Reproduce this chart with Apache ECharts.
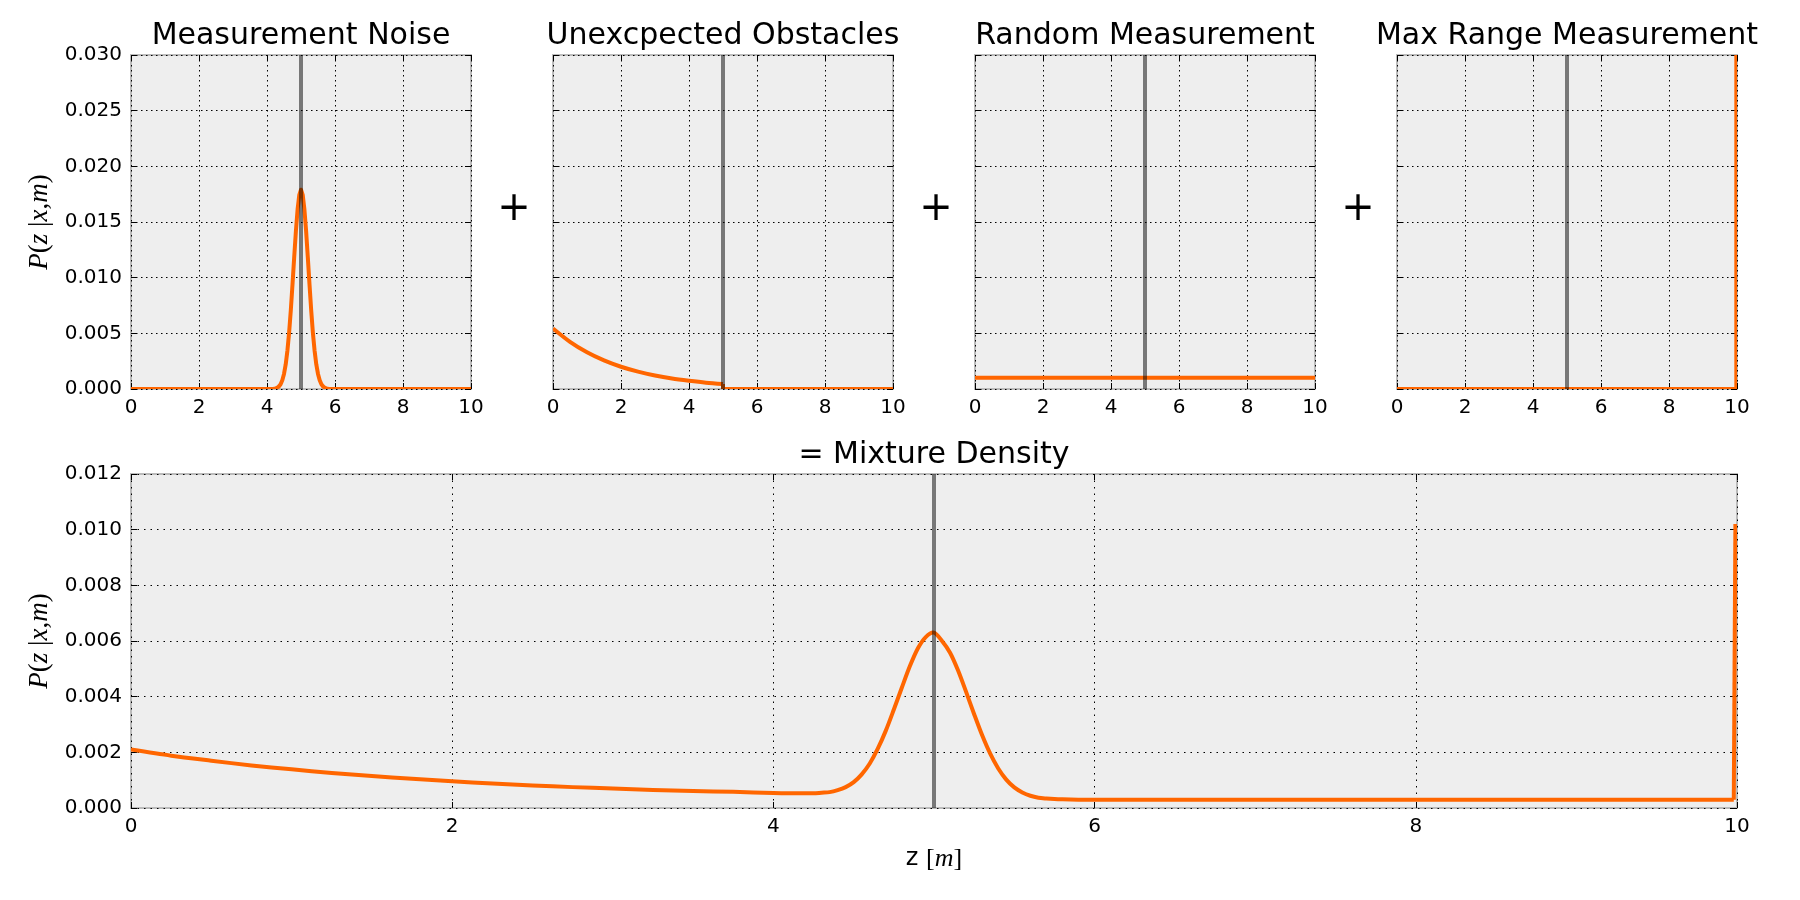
<!DOCTYPE html>
<html><head><meta charset="utf-8">
<script src="https://cdn.jsdelivr.net/npm/echarts@6/dist/echarts.min.js"></script>
<style>html,body{margin:0;padding:0;background:#fff;overflow:hidden}#c{width:1800px;height:900px}</style>
</head><body><div id="c"></div>
<script>
// ---------------- data ----------------
const panelTitles = ['Measurement Noise', 'Unexcpected Obstacles', 'Random Measurement', 'Max Range Measurement'];
const mixTitle = '= Mixture Density';
const truePos = 5;                       // true distance (gray line)
const xTickStep = 2;
const topYMax = 0.030, topYStep = 0.005;
const mixYMax = 0.012, mixYStep = 0.002;

// Measurement noise
const noiseZ = [0, 4.1, 4.15, 4.2, 4.25, 4.3, 4.35, 4.4, 4.45, 4.5, 4.55, 4.6, 4.65, 4.7, 4.75, 4.8, 4.85, 4.9, 4.95, 5.0,
  5.05, 5.1, 5.15, 5.2, 5.25, 5.3, 5.35, 5.4, 5.45, 5.5, 5.55, 5.6, 5.65, 5.7, 5.75, 5.8, 5.85, 5.9, 10];
const noiseP = [0, 0, 0.00001, 0.00002, 0.00005, 0.00011, 0.00023, 0.00043, 0.00079, 0.00135, 0.00221, 0.00343, 0.00505, 0.00706, 0.00939, 0.01184, 0.01419, 0.01614, 0.01744, 0.0179,
  0.01744, 0.01614, 0.01419, 0.01184, 0.00939, 0.00706, 0.00505, 0.00343, 0.00221, 0.00135, 0.00079, 0.00043, 0.00023, 0.00011, 0.00005, 0.00002, 0.00001, 0, 0];

// Unexpected obstacles
const shortZ = [0, 0.5, 1, 1.5, 2, 2.5, 3, 3.5, 4, 4.5, 5];
const shortP = [0.00544, 0.00424, 0.0033, 0.00257, 0.002, 0.00156, 0.00121, 0.00094, 0.00074, 0.00057, 0.00045];
const shortTailZ = [5, 5, 10];
const shortTailP = [0.00045, 0, 0];

// Random measurement
const randZ = [0, 10];
const randP = [0.001, 0.001];

// Max range measurement
const maxZ = [0, 9.98, 9.99];
const maxP = [0, 0, 1];

// Mixture density
const mixZ = [0, 0.25, 0.5, 0.75, 1, 1.25, 1.5, 1.75, 2, 2.25, 2.5, 2.75, 3, 3.25, 3.5, 3.75, 4,
  4.1, 4.2, 4.25, 4.3, 4.35, 4.4, 4.45, 4.5, 4.55, 4.6, 4.65, 4.7, 4.75, 4.8, 4.85, 4.9, 4.95, 5.0,
  5.05, 5.1, 5.15, 5.2, 5.25, 5.3, 5.35, 5.4, 5.45, 5.5, 5.55, 5.6, 5.65, 5.7, 5.75, 5.8, 5.9, 6, 9.98];
const mixP = [0.0021, 0.00188, 0.0017, 0.00153, 0.00139, 0.00126, 0.00115, 0.00105, 0.00096, 0.00088, 0.00081, 0.00075, 0.0007, 0.00065, 0.00061, 0.00058, 0.00054,
  0.00053, 0.00053, 0.00053, 0.00055, 0.00057, 0.00064, 0.00075, 0.00093, 0.00121, 0.0016, 0.00213, 0.00278, 0.00354, 0.00433, 0.0051, 0.00574, 0.00615, 0.0063,
  0.006, 0.00558, 0.00494, 0.00417, 0.00337, 0.00261, 0.00195, 0.00142, 0.00102, 0.00074, 0.00056, 0.00044, 0.00037, 0.00034, 0.00032, 0.00031, 0.0003, 0.0003, 0.0003];
const mixSpikeZ = [9.98, 9.99];
const mixSpikeP = [0.0003, 0.0102];

// ---------------- styling / layout ----------------
const FONT = 'DejaVu Sans';
const ORANGE = '#ff6600';
const topLefts = [131, 553, 975, 1397];
const topBox = { top: 55, width: 340, height: 334 };
const mixBox = { left: 131, top: 474, width: 1606, height: 334 };

const zip = (a, b) => a.map((v, i) => [v, b[i]]);

const grids = [], xAxes = [], yAxes = [], series = [];
const mkTick = () => ({ show: true, inside: true, length: 6, lineStyle: { color: '#000', width: 1 } });
const noLine = () => ({ show: false, onZero: false });
function addPanel(box, yMax, yStep, showYLabels, gridLineDash) {
  const gi = grids.length;
  grids.push(Object.assign({ show: true, backgroundColor: '#eeeeee', borderColor: '#bbbbbb', borderWidth: 2, containLabel: false }, box));
  const split = () => ({ show: true, lineStyle: { color: '#000', width: 1, type: gridLineDash } });
  const lab = () => ({ fontFamily: FONT, fontSize: 20, color: '#000', margin: 9 });
  xAxes.push({ type: 'value', gridIndex: gi, position: 'bottom', min: 0, max: 10, interval: xTickStep,
    axisLine: noLine(), axisTick: mkTick(), splitLine: split(), axisLabel: Object.assign({ show: true }, lab()) });
  xAxes.push({ type: 'value', gridIndex: gi, position: 'top', min: 0, max: 10, interval: xTickStep,
    axisLine: noLine(), axisTick: mkTick(), splitLine: { show: false }, axisLabel: { show: false } });
  yAxes.push({ type: 'value', gridIndex: gi, position: 'left', min: 0, max: yMax, interval: yStep,
    axisLine: noLine(), axisTick: mkTick(), splitLine: split(),
    axisLabel: Object.assign({ show: showYLabels, formatter: v => v.toFixed(3) }, lab()) });
  yAxes.push({ type: 'value', gridIndex: gi, position: 'right', min: 0, max: yMax, interval: yStep,
    axisLine: noLine(), axisTick: mkTick(), splitLine: { show: false }, axisLabel: { show: false } });
  return gi;
}
// each curve: one polyline placed through the axes (api.coord), clipped exactly at the frame
function curve(gi, z, p, smooth) {
  const pts = zip(z, p);
  series.push({ type: 'custom', coordinateSystem: 'cartesian2d', xAxisIndex: 2 * gi, yAxisIndex: 2 * gi,
    data: pts, encode: { x: 0, y: 1 }, clip: true, silent: true, z: 2,
    renderItem: (params, api) => {
      if (params.dataIndex !== 0) return null;
      return { type: 'polyline', shape: { points: pts.map(q => api.coord(q)), smooth: smooth || 0 },
        style: { stroke: ORANGE, lineWidth: 4, fill: null, lineJoin: 'round', lineCap: 'butt' } };
    } });
}
function truthLine(gi) {
  series.push({ type: 'line', xAxisIndex: 2 * gi, yAxisIndex: 2 * gi, data: [], z: 5,
    markLine: { silent: true, symbol: ['none', 'none'], label: { show: false },
      lineStyle: { color: 'rgba(0,0,0,0.5)', width: 4, type: 'solid' }, data: [{ xAxis: truePos }] } });
}

const yNameRich = {
  i: { fontFamily: 'Liberation Serif', fontStyle: 'italic', fontSize: 27, color: '#000' },
  r: { fontFamily: 'Liberation Serif', fontSize: 27, color: '#000' }
};
const yName = '{i|P}{r|(}{i|z}{r| |}{i|x}{r|,}{i|m}{r|)}';

for (let k = 0; k < 4; k++) {
  addPanel(Object.assign({ left: topLefts[k] }, topBox), topYMax, topYStep, k === 0, [1.5, 3.5]);
}
const gm = addPanel(mixBox, mixYMax, mixYStep, true, [1.5, 5]);

[0, gm].forEach(gi => {
  Object.assign(yAxes[2 * gi], { name: yName, nameLocation: 'middle', nameGap: 78, nameRotate: 90,
    nameTextStyle: { rich: yNameRich } });
});
Object.assign(xAxes[2 * gm], { name: '{s|z }{r|[}{i|m}{r|]}', nameLocation: 'middle', nameGap: 38,
  nameTextStyle: { rich: {
    s: { fontFamily: FONT, fontSize: 24, color: '#000' },
    r: { fontFamily: 'Liberation Serif', fontSize: 26, color: '#000' },
    i: { fontFamily: 'Liberation Serif', fontStyle: 'italic', fontSize: 26, color: '#000' } } } });

curve(0, noiseZ, noiseP);
curve(1, shortZ, shortP, 0.3);
curve(1, shortTailZ, shortTailP);
curve(2, randZ, randP);
curve(3, maxZ, maxP);
curve(gm, mixZ, mixP, 0.3);
curve(gm, mixSpikeZ, mixSpikeP);
for (let g = 0; g <= gm; g++) truthLine(g);

const graphics = [];
panelTitles.forEach((t, k) => {
  graphics.push({ type: 'text', x: topLefts[k] + topBox.width / 2, y: 36,
    style: { text: t, font: '30px "DejaVu Sans"', fill: '#000', textAlign: 'center', textVerticalAlign: 'middle' } });
});
graphics.push({ type: 'text', x: mixBox.left + mixBox.width / 2, y: 455,
  style: { text: mixTitle, font: '30px "DejaVu Sans"', fill: '#000', textAlign: 'center', textVerticalAlign: 'middle' } });
for (let k = 0; k < 3; k++) {
  const cx = (topLefts[k] + topBox.width + topLefts[k + 1]) / 2 + 2;
  graphics.push({ type: 'text', x: cx, y: topBox.top + topBox.height * 0.463,
    style: { text: '+', font: '40px "DejaVu Sans"', fill: '#000', textAlign: 'center', textVerticalAlign: 'middle' } });
}

const chart = echarts.init(document.getElementById('c'), null, { renderer: 'canvas' });
chart.setOption({
  animation: false,
  backgroundColor: '#ffffff',
  grid: grids, xAxis: xAxes, yAxis: yAxes, series: series,
  graphic: graphics
});
</script></body></html>
